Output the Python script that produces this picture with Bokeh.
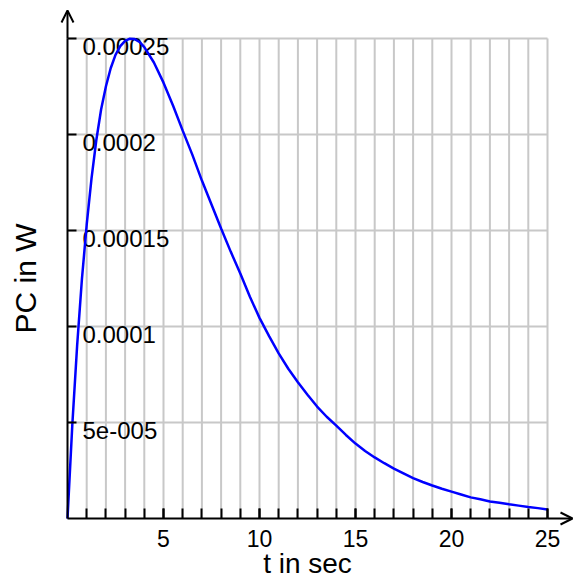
from bokeh.plotting import figure
from bokeh.models import Range1d, FixedTicker, Arrow, OpenHead, ColumnDataSource
from bokeh.core.properties import value
from bokeh.embed import file_html
from bokeh.resources import INLINE

# ---- data ----
t_sec = [0, 0.25, 0.5, 0.75, 1.0, 1.25, 1.5, 1.75, 2.0, 2.25, 2.5, 2.75, 3.0, 3.25,
         3.5, 3.75, 4.0, 4.5, 5.0, 5.5, 6.0, 6.5, 7.0, 7.5, 8.0, 8.5, 9.0, 9.5, 10,
         10.5, 11, 11.5, 12, 12.5, 13, 13.5, 14, 14.5, 15, 15.5, 16, 16.5, 17, 17.5,
         18, 18.5, 19, 19.5, 20, 20.5, 21, 21.5, 22, 22.5, 23, 23.5, 24, 24.5, 25]
pc_w = [0.0, 4.86e-5, 8.98e-5, 12.45e-5, 15.3e-5, 17.7e-5, 19.7e-5, 21.3e-5, 22.5e-5,
        23.45e-5, 24.15e-5, 24.6e-5, 24.88e-5, 24.99e-5, 24.97e-5, 24.82e-5, 24.55e-5,
        23.75e-5, 22.7e-5, 21.5e-5, 20.2e-5, 18.95e-5, 17.6e-5, 16.35e-5, 15.1e-5,
        13.9e-5, 12.76e-5, 11.55e-5, 10.45e-5,
        9.5e-5, 8.6e-5, 7.8e-5, 7.1e-5, 6.45e-5, 5.83e-5, 5.3e-5, 4.84e-5, 4.35e-5,
        3.9e-5, 3.52e-5, 3.18e-5, 2.88e-5, 2.6e-5, 2.35e-5, 2.1e-5, 1.9e-5, 1.72e-5,
        1.55e-5, 1.4e-5, 1.25e-5, 1.1e-5, 1.0e-5, 0.89e-5, 0.82e-5, 0.74e-5, 0.67e-5,
        0.6e-5, 0.54e-5, 0.47e-5]

x_ticks = [5, 10, 15, 20, 25]
x_minor_ticks = list(range(1, 26))
x_grid = list(range(1, 26))
y_ticks = [5e-5, 1e-4, 1.5e-4, 2e-4, 2.5e-4]
y_tick_labels = ["5e-005", "0.0001", "0.00015", "0.0002", "0.00025"]
x_label = "t in sec"
y_label = "PC in W"

x_max = 25
y_max = 2.5e-4

# ---- layout ----
W, H = 574, 581
left_px, bottom_px = 67, 63          # pixels from figure edge to data origin
x_scale = 19.2                       # px per second
y_scale = 1.92e6                     # px per watt
x_range = Range1d(-left_px / x_scale, (W - left_px) / x_scale)
y_range = Range1d(-bottom_px / y_scale, (H - bottom_px) / y_scale)

FONT = "Liberation Sans"
GRID = "#c8c8c8"

p = figure(width=W, height=H, x_range=x_range, y_range=y_range,
           output_backend="svg", toolbar_location=None, min_border=0,
           outline_line_color=None, background_fill_color="white",
           border_fill_color="white")
p.grid.visible = False

# grid lines limited to the data area
p.segment(x0=x_grid, y0=[0] * len(x_grid), x1=x_grid, y1=[y_max] * len(x_grid),
          line_color=GRID, line_width=2)
p.segment(x0=[0] * len(y_ticks), y0=y_ticks, x1=[x_max] * len(y_ticks), y1=y_ticks,
          line_color=GRID, line_width=2)

# x axis
xa = p.xaxis[0]
xa.fixed_location = 0
xa.bounds = (0, x_max)
xa.ticker = FixedTicker(ticks=x_ticks, minor_ticks=x_minor_ticks)
xa.major_tick_in = 10
xa.major_tick_out = 0
xa.minor_tick_in = 10
xa.minor_tick_out = 0
xa.axis_line_width = 2
xa.major_tick_line_width = 2
xa.minor_tick_line_width = 2
xa.axis_line_color = "black"
xa.major_tick_line_color = "black"
xa.minor_tick_line_color = "black"
xa.major_label_text_font = FONT
xa.major_label_text_font_size = "23px"
xa.major_label_text_color = "black"
xa.major_label_standoff = 11
xa.axis_label = x_label
xa.axis_label_text_font = FONT
xa.axis_label_text_font_size = "28px"
xa.axis_label_text_font_style = "normal"
xa.axis_label_text_color = "black"
xa.axis_label_standoff = -2

# y axis (tick marks only; labels are drawn inside the plot)
ya = p.yaxis[0]
ya.fixed_location = 0
ya.bounds = (0, y_max)
ya.ticker = FixedTicker(ticks=[], minor_ticks=y_ticks)
ya.minor_tick_in = 9
ya.minor_tick_out = 0
ya.minor_tick_line_width = 2
ya.minor_tick_line_color = "black"
ya.major_tick_line_color = None
ya.axis_line_width = 2
ya.axis_line_color = "black"
ya.major_label_standoff = 0
ya.axis_label = y_label
ya.axis_label_text_font = FONT
ya.axis_label_text_font_size = "30px"
ya.axis_label_text_font_style = "normal"
ya.axis_label_text_color = "black"
ya.axis_label_standoff = 26

# y tick labels inside the plot, right of the axis
lab_src = ColumnDataSource(dict(x=[0] * len(y_ticks), y=y_ticks, text=y_tick_labels))
p.text(x="x", y="y", text="text", source=lab_src, x_offset=15, y_offset=8,
       text_align="left", text_baseline="middle", text_color="black",
       text_font=value(FONT), text_font_size=value("24px"))

# curve
p.line(t_sec, pc_w, line_color="#0000ff", line_width=2.5)

# arrow heads at the ends of the axes
x_tip = (W - 2 - left_px) / x_scale
y_tip = (H - bottom_px - 10) / y_scale
p.add_layout(Arrow(end=OpenHead(size=12, line_width=2, line_color="black"),
                   x_start=x_max, y_start=0, x_end=x_tip, y_end=0,
                   line_width=2, line_color="black"))
p.add_layout(Arrow(end=OpenHead(size=12, line_width=2, line_color="black"),
                   x_start=0, y_start=y_max, x_end=0, y_end=y_tip,
                   line_width=2, line_color="black"))

open("out.html", "w").write(file_html(p, INLINE))
